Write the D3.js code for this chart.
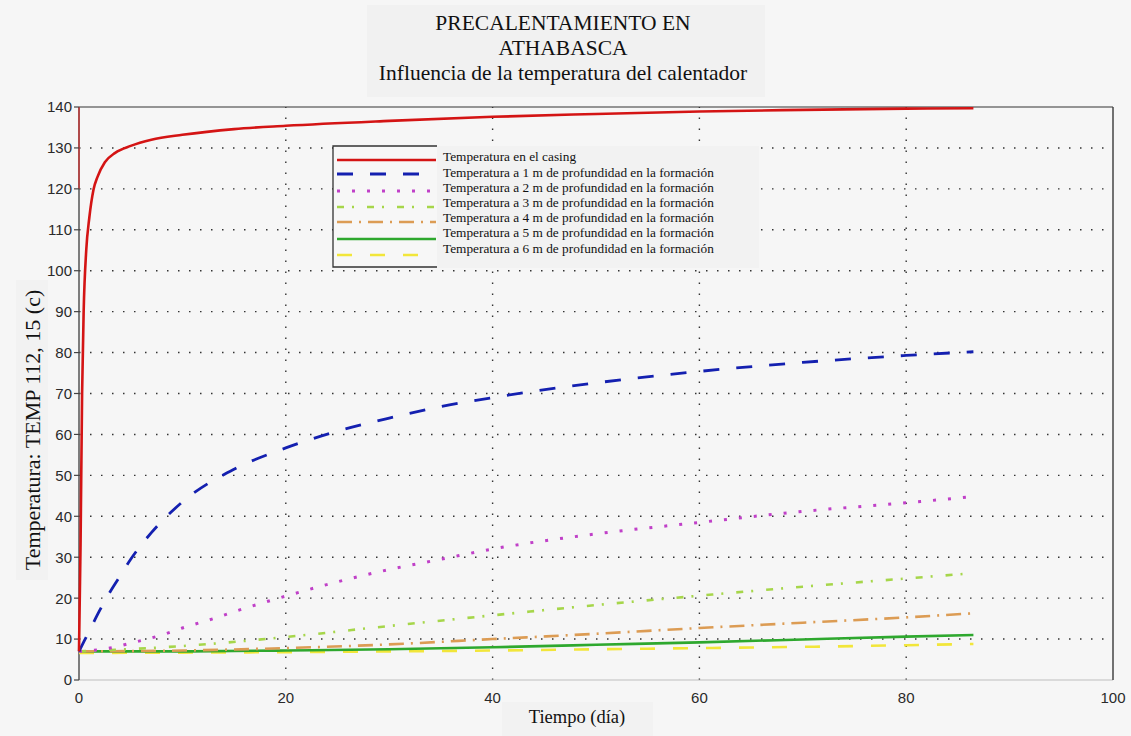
<!DOCTYPE html>
<html lang="es">
<head>
<meta charset="UTF-8">
<title>Precalentamiento en Athabasca</title>
<script src="https://d3js.org/d3.v7.min.js"></script>
<style>
  body { margin: 0; background: #f6f6f6; }
  svg { display: block; }
  .tick-label { font: 15px "Liberation Sans", Arial, sans-serif; fill: #2a2a2a; }
  .serif { font-family: "Liberation Serif", "Times New Roman", serif; fill: #111; }
  .grid { stroke: #333; stroke-width: 1.4; stroke-dasharray: 1.5 9.5; fill: none; }
</style>
</head>
<body>
<script>
// time axis (days)
const tCasing = [0, 0.15, 0.3, 0.45, 0.7, 1.0, 1.4, 1.8, 2.5, 3.5, 5, 7, 10, 15, 20, 30, 40, 50, 60, 70, 80, 86.5];
const casing  = [7, 33, 70, 90, 105, 113, 119.8, 123, 126.5, 128.8, 130.5, 132, 133.2, 134.6, 135.4, 136.6, 137.6, 138.3, 138.9, 139.3, 139.6, 139.7];

const t1m = [0, 1, 2, 3, 4, 5, 7, 10, 15, 20, 25, 30, 35, 40, 50, 60, 70, 80, 86.5];
const m1  = [7, 12, 17, 21.5, 25.5, 29.5, 36, 43.5, 51.5, 56.7, 60.8, 64, 66.8, 69, 72.6, 75.4, 77.6, 79.3, 80.2];

const t2m = [0, 3, 5, 8, 10, 13, 16, 20, 25, 30, 35, 40, 50, 60, 70, 80, 86.5];
const m2  = [7, 7.8, 9, 11, 12.7, 15, 17.5, 20.5, 24, 27, 29.5, 32, 35.7, 38.5, 41.2, 43.3, 44.8];

const tDeep = [0, 10, 20, 30, 40, 50, 60, 70, 80, 86.5];
const m3 = [7, 8.3, 10.5, 13.2, 15.8, 18.3, 20.6, 22.8, 24.8, 26.1];
const m4 = [7, 7.2, 7.8, 8.7, 10, 11.3, 12.7, 14, 15.3, 16.3];
const m5 = [7, 7, 7.2, 7.5, 8, 8.6, 9.2, 9.9, 10.6, 11];
const m6 = [6.6, 6.7, 6.8, 7, 7.2, 7.5, 7.8, 8.1, 8.5, 8.8];

const legendNames = [
  "Temperatura en el casing",
  "Temperatura a 1 m de profundidad en la formación",
  "Temperatura a 2 m de profundidad en la formación",
  "Temperatura a 3 m de profundidad en la formación",
  "Temperatura a 4 m de profundidad en la formación",
  "Temperatura a 5 m de profundidad en la formación",
  "Temperatura a 6 m de profundidad en la formación"
];
const xTicks = [0, 20, 40, 60, 80, 100];
const yTicks = d3.range(0, 141, 10);

const series = [
  { t: tCasing, v: casing, color: "#d41414", dash: null, w: 2.6 },
  { t: t1m, v: m1, color: "#1420b0", dash: "16 17", w: 2.8 },
  { t: t2m, v: m2, color: "#c040c8", dash: "3 12", w: 3 },
  { t: tDeep, v: m3, color: "#a6d64a", dash: "7 8 2 13", w: 2.6 },
  { t: tDeep, v: m4, color: "#dc9c54", dash: "15 7 2 7", w: 2.6 },
  { t: tDeep, v: m5, color: "#2ea82e", dash: null, w: 2.6 },
  { t: tDeep, v: m6, color: "#f2e63a", dash: "15 18", w: 2.6 }
];

const W = 1131, H = 736;
const svg = d3.select("body").append("svg").attr("width", W).attr("height", H);

const x = d3.scaleLinear().domain([0, 100]).range([79, 1113]);
const y = d3.scaleLinear().domain([0, 140]).range([680, 107]);

// title block
svg.append("rect").attr("x", 367).attr("y", 5).attr("width", 398).attr("height", 92).attr("fill", "#f1f1f1");
const title = ["PRECALENTAMIENTO EN", "ATHABASCA", "Influencia de la temperatura del calentador"];
title.forEach((s, i) => {
  svg.append("text").attr("class", "serif")
    .attr("x", 563).attr("y", 30 + i * 25)
    .attr("text-anchor", "middle").attr("font-size", 21.5).text(s);
});

// grid
svg.append("g").selectAll("line").data(yTicks.filter(d => d > 0 && d < 140)).join("line")
  .attr("class", "grid")
  .attr("x1", x(0)).attr("x2", x(100))
  .attr("y1", d => y(d)).attr("y2", d => y(d));
svg.append("g").selectAll("line").data(xTicks.filter(d => d > 0 && d < 100)).join("line")
  .attr("class", "grid")
  .attr("x1", d => x(d)).attr("x2", d => x(d))
  .attr("y1", y(0)).attr("y2", y(140));

// frame
svg.append("line").attr("x1", x(0)).attr("x2", x(100)).attr("y1", y(0)).attr("y2", y(0))
  .attr("stroke", "#bdbdbd").attr("stroke-width", 1.2);
svg.append("line").attr("x1", x(0)).attr("x2", x(100)).attr("y1", y(140)).attr("y2", y(140))
  .attr("stroke", "#333").attr("stroke-width", 1.2);
svg.append("line").attr("x1", x(100)).attr("x2", x(100)).attr("y1", y(0)).attr("y2", y(140))
  .attr("stroke", "#444").attr("stroke-width", 1.5);
svg.append("line").attr("x1", x(0)).attr("x2", x(0)).attr("y1", y(0)).attr("y2", y(140))
  .attr("stroke", "#555").attr("stroke-width", 1.5);
svg.append("line").attr("x1", x(0)).attr("x2", x(0)).attr("y1", y(120)).attr("y2", y(140))
  .attr("stroke", "#c23a3a").attr("stroke-width", 1.5);

// y ticks
const yAx = svg.append("g");
yAx.selectAll("line").data(yTicks).join("line")
  .attr("x1", x(0) - 5).attr("x2", x(0)).attr("y1", d => y(d)).attr("y2", d => y(d))
  .attr("stroke", "#444").attr("stroke-width", 1.2);
yAx.selectAll("text").data(yTicks).join("text")
  .attr("class", "tick-label")
  .attr("x", 72).attr("y", d => y(d)).attr("dy", "0.36em")
  .attr("text-anchor", "end").text(d => d);

// x ticks
const xAx = svg.append("g");
xAx.selectAll("text").data(xTicks).join("text")
  .attr("class", "tick-label")
  .attr("x", d => x(d)).attr("y", 698).attr("dy", "0.36em")
  .attr("text-anchor", "middle").text(d => d);

// axis labels
svg.append("rect").attr("x", 502).attr("y", 702).attr("width", 151).attr("height", 34).attr("fill", "#f2f2f2");
svg.append("text").attr("class", "serif").attr("x", 577).attr("y", 723)
  .attr("text-anchor", "middle").attr("font-size", 18.5).text("Tiempo (día)");
svg.append("rect").attr("x", 16).attr("y", 280).attr("width", 32).attr("height", 300).attr("fill", "#f2f2f2");
svg.append("text").attr("class", "serif")
  .attr("transform", `translate(40,${430}) rotate(-90)`)
  .attr("text-anchor", "middle").attr("font-size", 22).text("Temperatura: TEMP 112, 15 (c)");

// curves
const line = d3.line().x(d => x(d[0])).y(d => y(d[1])).curve(d3.curveMonotoneX);
svg.append("g").selectAll("path").data(series.slice().reverse()).join("path")
  .attr("d", s => line(s.t.map((t, i) => [t, s.v[i]])))
  .attr("fill", "none")
  .attr("stroke", s => s.color)
  .attr("stroke-width", s => s.w)
  .attr("stroke-dasharray", s => s.dash);

// legend
const lg = svg.append("g");
lg.append("rect").attr("x", 437).attr("y", 146).attr("width", 322).attr("height", 122).attr("fill", "#f2f2f2");
lg.append("rect").attr("x", 333).attr("y", 146).attr("width", 104).attr("height", 121)
  .attr("fill", "#f7f7f7").attr("stroke", "none");
lg.append("path").attr("d", "M437,146H333V267H437").attr("fill", "none").attr("stroke", "#333").attr("stroke-width", 1.3);
const rowY = [160, 174, 191, 207, 222, 239, 255];
const textY = [156, 172, 187, 202, 217, 232, 248];
lg.selectAll("line.s").data(series).join("line")
  .attr("x1", 337).attr("x2", 436)
  .attr("y1", (d, i) => rowY[i]).attr("y2", (d, i) => rowY[i])
  .attr("stroke", d => d.color).attr("stroke-width", d => d.w)
  .attr("stroke-dasharray", d => d.dash);
lg.selectAll("text").data(legendNames).join("text")
  .attr("class", "serif").attr("font-size", 13.3)
  .attr("x", 443).attr("y", (d, i) => textY[i]).attr("dy", "0.35em")
  .text(d => d);
</script>
</body>
</html>
